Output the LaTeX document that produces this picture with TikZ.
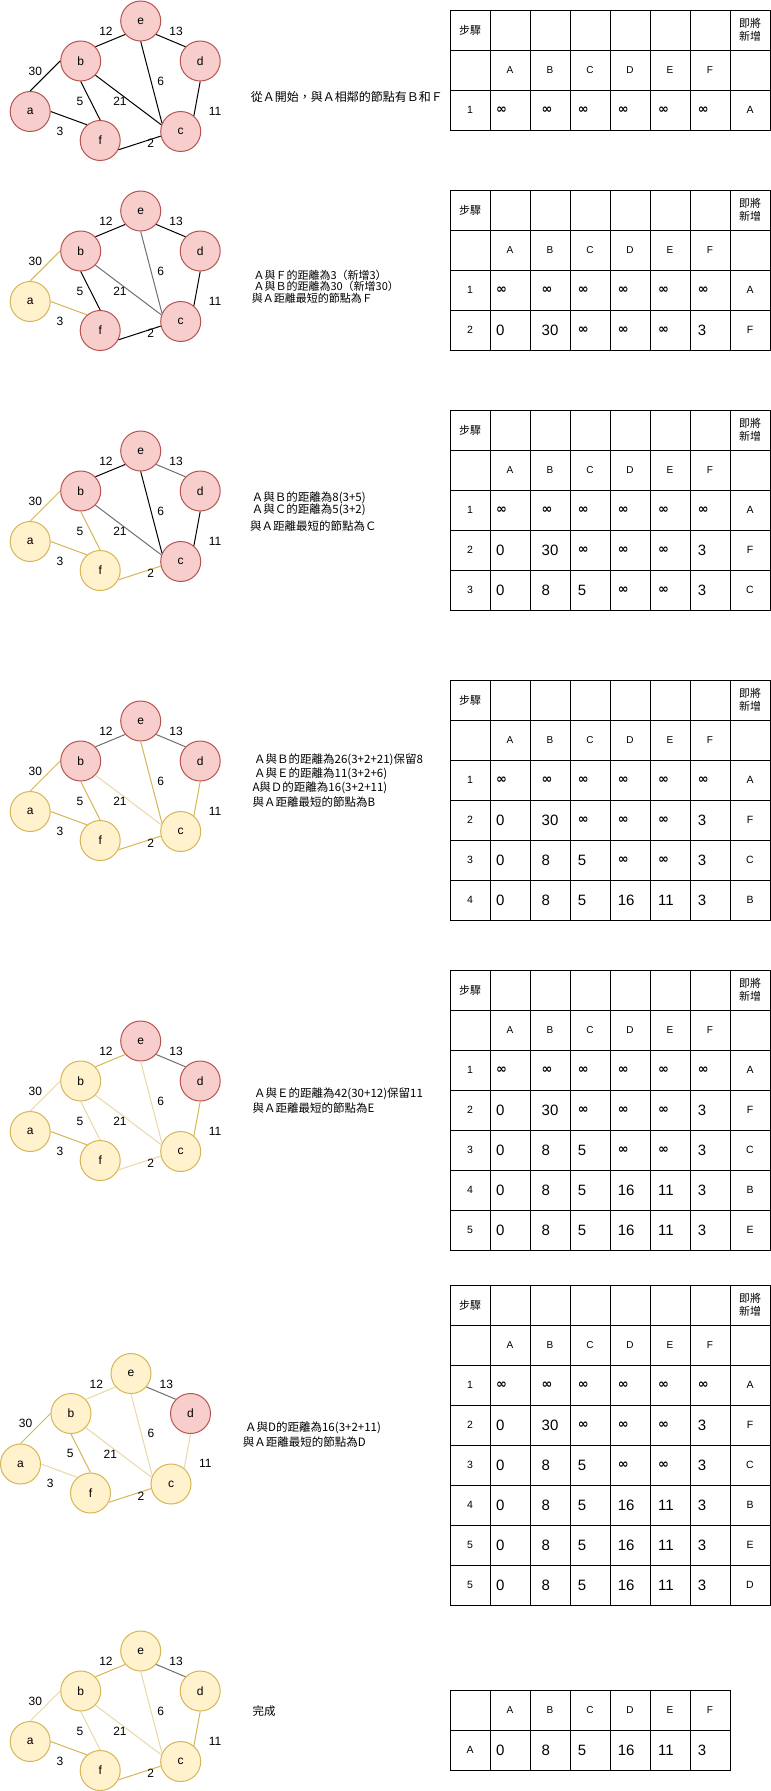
\documentclass[tikz,border=0pt]{standalone}
\usepackage{fontspec}
\setmainfont{Liberation Sans}
\newfontfamily\cjk{Noto Sans CJK TC}
\newfontfamily\symf{DejaVu Sans}

\definecolor{redfill}{HTML}{F8CECC}
\definecolor{redline}{HTML}{B85450}
\definecolor{yelfill}{HTML}{FFF2CC}
\definecolor{yelline}{HTML}{D6B656}
\definecolor{paleline}{HTML}{E8D9A6}
\definecolor{grayline}{HTML}{707070}

\newcommand{\infy}{{\symf\bfseries\fontsize{13}{14}\selectfont ∞}}

% --- one copy of the graph (e at the origin) ---
\newcommand{\dgraph}{%
  \node[vert, v-e] (e) at (0,0) {e};
  \node[vert, v-b] (b) at (-60,40) {b};
  \node[vert, v-d] (d) at (59.5,40) {d};
  \node[vert, v-a] (a) at (-110.5,90.5) {a};
  \node[vert, v-f] (f) at (-40.5,119.5) {f};
  \node[vert, v-c] (c) at (40,110.5) {c};
  \draw[e-ab] (a.north) -- (b.west);
  \draw[e-af] (a.east) -- (f.130);
  \draw[e-be] (b.44) -- (e.221);
  \draw[e-ed] (e.-41) -- (d.136);
  \draw[e-bf] (b.south) -- (f.north);
  \draw[e-bc] (b.-44) -- (c.161);
  \draw[e-ec] (e.south) -- (c.156);
  \draw[e-dc] (d.south) -- (c.50);
  \draw[e-fc] (f.-27) -- (c.193);
  \node[wt] (w-be) at (-34.7,10.7) {12};
  \node[wt] (w-ed) at (35.3,10.7) {13};
  \node[wt] (w-ab) at (-105.4,50) {30};
  \node[wt] (w-bf) at (-60.7,80) {5};
  \node[wt] (w-bc) at (-20.7,80.7) {21};
  \node[wt] (w-ec) at (20,60) {6};
  \node[wt] (w-dc) at (74.3,90) {11};
  \node[wt] (w-af) at (-80.7,110) {3};
  \node[wt] (w-fc) at (10,122.5) {2};
}

% --- table pieces ---
\newcommand{\tgrid}[3]{% top, rows, columns
  \draw[tbl] (450,#1) rectangle (450+40*#3,#1+40*#2);
  \foreach \i in {1,...,7} \draw[tbl] (450+40*\i,#1) -- (450+40*\i,#1+40*#2);
  \foreach \j in {1,...,#2} \draw[tbl] (450,#1+40*\j) -- (450+40*#3,#1+40*\j);
}
\newcommand{\colhead}[1]{%
  \foreach \k/\L in {0/A,1/B,2/C,3/D,4/E,5/F}
    \node[hd] (h\L) at (510+40*\k,#1+20) {\L};
}
\newcommand{\dtable}[2]{% top, rows
  \tgrid{#1}{#2}{8}
  \node[cjkcell] (steps) at (470,#1+20) {步驟};
  \node[cjkcell] (newer) at (750,#1+20) {即將\\新增};
  \colhead{#1+40}
}
\newcommand{\trow}[9]{% top, step, A..F, new
  \node[stepno] (r#9-n) at (470,#1+20) {#2};
  \node[val] (r#9-A) at (496,#1+20) {#3};
  \node[val] (r#9-B) at (541.5,#1+20) {#4};
  \node[val] (r#9-C) at (577.7,#1+20) {#5};
  \node[val] (r#9-D) at (617.7,#1+20) {#6};
  \node[val] (r#9-E) at (658,#1+20) {#7};
  \node[val] (r#9-F) at (697.7,#1+20) {#8};
  \node[stepno] (r#9-new) at (750,#1+20) {#9};
}

\begin{document}
\begin{tikzpicture}[x=1pt, y=-1pt]

    % --- styles ---
    \tikzset{
        vert/.style={circle, line width=1pt, minimum size=40pt, inner sep=0pt, font=\fontsize{12}{14}\selectfont},
        todo/.style={fill=redfill, draw=redline},
        done/.style={fill=yelfill, draw=yelline},
        blk/.style={draw=black, line width=1pt},
        gry/.style={draw=grayline, line width=1pt},
        yel/.style={draw=yelline, line width=1pt},
        pale/.style={draw=paleline, line width=1pt},
        v-a/.style=todo, v-b/.style=todo, v-c/.style=todo,
        v-d/.style=todo, v-e/.style=todo, v-f/.style=todo,
        e-ab/.style=blk, e-af/.style=blk, e-be/.style=blk,
        e-ed/.style=blk, e-bf/.style=blk, e-bc/.style=blk,
        e-ec/.style=blk, e-dc/.style=blk, e-fc/.style=blk,
        wt/.style={font=\fontsize{12}{14}\selectfont, inner sep=0pt},
        desc/.style={font=\cjk\fontsize{11.5}{14}\selectfont, anchor=west, inner sep=0pt},
        tbl/.style={line width=1pt},
        hd/.style={font=\fontsize{10}{12}\selectfont, inner sep=0pt},
        stepno/.style={font=\fontsize{10.5}{12}\selectfont, inner sep=0pt},
        val/.style={font=\fontsize{15}{18}\selectfont, anchor=west, inner sep=0pt},
        cjkcell/.style={font=\cjk\fontsize{11}{13.5}\selectfont, align=center, inner sep=0pt}
    }

    \path[use as bounding box, fill=white] (0,0) rectangle (771,1791);

    % --- 1. graphs ---
    \begin{scope}[shift={(140.7,21)}, name prefix=g1-]
        \dgraph
    \end{scope}

    \begin{scope}[shift={(140.7,211)}, name prefix=g2-,
        v-a/.style=done, e-ab/.style=yel, e-af/.style=yel,
        e-bc/.style=gry, e-ec/.style=gry]
        \dgraph
    \end{scope}

    \begin{scope}[shift={(140.7,451)}, name prefix=g3-,
        v-a/.style=done, v-f/.style=done,
        e-ab/.style=yel, e-af/.style=yel, e-bf/.style=yel, e-fc/.style=yel,
        e-ed/.style=gry, e-bc/.style=gry]
        \dgraph
    \end{scope}

    \begin{scope}[shift={(140.7,721)}, name prefix=g4-,
        v-a/.style=done, v-f/.style=done, v-c/.style=done,
        e-be/.style=gry, e-ed/.style=gry,
        e-ab/.style=yel, e-af/.style=yel, e-bf/.style=yel,
        e-ec/.style=yel, e-dc/.style=yel, e-fc/.style=yel, e-bc/.style=pale]
        \dgraph
    \end{scope}

    \begin{scope}[shift={(140.7,1041)}, name prefix=g5-,
        v-a/.style=done, v-b/.style=done, v-c/.style=done, v-f/.style=done,
        e-ed/.style=gry, e-be/.style=yel, e-dc/.style=yel, e-af/.style=yel,
        e-ab/.style=pale, e-bf/.style=pale, e-bc/.style=pale,
        e-ec/.style=pale, e-fc/.style=pale]
        \dgraph
    \end{scope}

    \begin{scope}[shift={(131,1373.5)}, name prefix=g6-,
        v-a/.style=done, v-b/.style=done, v-c/.style=done,
        v-e/.style=done, v-f/.style=done,
        e-ed/.style=gry, e-ab/.style=yel, e-bf/.style=yel, e-fc/.style=yel,
        e-be/.style=pale, e-bc/.style=pale, e-ec/.style=pale,
        e-dc/.style=pale, e-af/.style=pale]
        \dgraph
    \end{scope}

    \begin{scope}[shift={(140.7,1651)}, name prefix=g7-,
        v-a/.style=done, v-b/.style=done, v-c/.style=done,
        v-d/.style=done, v-e/.style=done, v-f/.style=done,
        e-ed/.style=gry, e-be/.style=yel, e-dc/.style=yel,
        e-af/.style=yel, e-fc/.style=yel,
        e-ab/.style=pale, e-bf/.style=pale, e-bc/.style=pale, e-ec/.style=pale]
        \dgraph
    \end{scope}

    % --- 2. notes ---
    \node[desc, font=\cjk\fontsize{12}{14}\selectfont] (s1) at (250.7,96.7) {從Ａ開始，與Ａ相鄰的節點有Ｂ和Ｆ};

    \node[desc, font=\cjk\fontsize{11}{13}\selectfont] (s2a) at (253.3,275) {Ａ與Ｆ的距離為3（新增3）};
    \node[desc, font=\cjk\fontsize{11}{13}\selectfont] (s2b) at (253.3,286.7) {Ａ與Ｂ的距離為30（新增30）};
    \node[desc, font=\cjk\fontsize{11}{13}\selectfont] (s2c) at (251.7,298.3) {與Ａ距離最短的節點為Ｆ};

    \node[desc] (s3a) at (251.7,497.3) {Ａ與Ｂ的距離為8(3+5)};
    \node[desc] (s3b) at (251.7,510) {Ａ與Ｃ的距離為5(3+2)};
    \node[desc] (s3c) at (250,525.7) {與Ａ距離最短的節點為Ｃ};

    \node[desc] (s4a) at (254,760) {Ａ與Ｂ的距離為26(3+2+21)保留8};
    \node[desc] (s4b) at (254,773.3) {Ａ與Ｅ的距離為11(3+2+6)};
    \node[desc] (s4c) at (252.3,787.3) {A與Ｄ的距離為16(3+2+11)};
    \node[desc] (s4d) at (252.3,801.7) {與Ａ距離最短的節點為B};

    \node[desc] (s5a) at (254,1094) {Ａ與Ｅ的距離為42(30+12)保留11};
    \node[desc] (s5b) at (252.3,1108.3) {與Ａ距離最短的節點為E};

    \node[desc] (s6a) at (245,1427.3) {Ａ與D的距離為16(3+2+11)};
    \node[desc] (s6b) at (242.7,1441.7) {與Ａ距離最短的節點為D};

    \node[desc] (s7) at (252.3,1711) {完成};

    % --- 3. tables ---
    \begin{scope}[name prefix=t1-]
        \dtable{10}{3}
        \trow{90}{1}{\infy}{\infy}{\infy}{\infy}{\infy}{\infy}{A}
    \end{scope}

    \begin{scope}[name prefix=t2-]
        \dtable{190}{4}
        \trow{270}{1}{\infy}{\infy}{\infy}{\infy}{\infy}{\infy}{A}
        \trow{310}{2}{0}{30}{\infy}{\infy}{\infy}{3}{F}
    \end{scope}

    \begin{scope}[name prefix=t3-]
        \dtable{410}{5}
        \trow{490}{1}{\infy}{\infy}{\infy}{\infy}{\infy}{\infy}{A}
        \trow{530}{2}{0}{30}{\infy}{\infy}{\infy}{3}{F}
        \trow{570}{3}{0}{8}{5}{\infy}{\infy}{3}{C}
    \end{scope}

    \begin{scope}[name prefix=t4-]
        \dtable{680}{6}
        \trow{760}{1}{\infy}{\infy}{\infy}{\infy}{\infy}{\infy}{A}
        \trow{800}{2}{0}{30}{\infy}{\infy}{\infy}{3}{F}
        \trow{840}{3}{0}{8}{5}{\infy}{\infy}{3}{C}
        \trow{880}{4}{0}{8}{5}{16}{11}{3}{B}
    \end{scope}

    \begin{scope}[name prefix=t5-]
        \dtable{970}{7}
        \trow{1050}{1}{\infy}{\infy}{\infy}{\infy}{\infy}{\infy}{A}
        \trow{1090}{2}{0}{30}{\infy}{\infy}{\infy}{3}{F}
        \trow{1130}{3}{0}{8}{5}{\infy}{\infy}{3}{C}
        \trow{1170}{4}{0}{8}{5}{16}{11}{3}{B}
        \trow{1210}{5}{0}{8}{5}{16}{11}{3}{E}
    \end{scope}

    \begin{scope}[name prefix=t6-]
        \dtable{1285}{8}
        \trow{1365}{1}{\infy}{\infy}{\infy}{\infy}{\infy}{\infy}{A}
        \trow{1405}{2}{0}{30}{\infy}{\infy}{\infy}{3}{F}
        \trow{1445}{3}{0}{8}{5}{\infy}{\infy}{3}{C}
        \trow{1485}{4}{0}{8}{5}{16}{11}{3}{B}
        \trow{1525}{5}{0}{8}{5}{16}{11}{3}{E}
        \trow{1565}{5}{0}{8}{5}{16}{11}{3}{D}
    \end{scope}

    % final table: no step row, no last column
    \begin{scope}[name prefix=t7-]
        \tgrid{1690}{2}{7}
        \colhead{1690}
        \node[stepno] (src) at (470,1750) {A};
        \node[val] (dA) at (496,1750) {0};
        \node[val] (dB) at (541.5,1750) {8};
        \node[val] (dC) at (577.7,1750) {5};
        \node[val] (dD) at (617.7,1750) {16};
        \node[val] (dE) at (658,1750) {11};
        \node[val] (dF) at (697.7,1750) {3};
    \end{scope}

\end{tikzpicture}
\end{document}
